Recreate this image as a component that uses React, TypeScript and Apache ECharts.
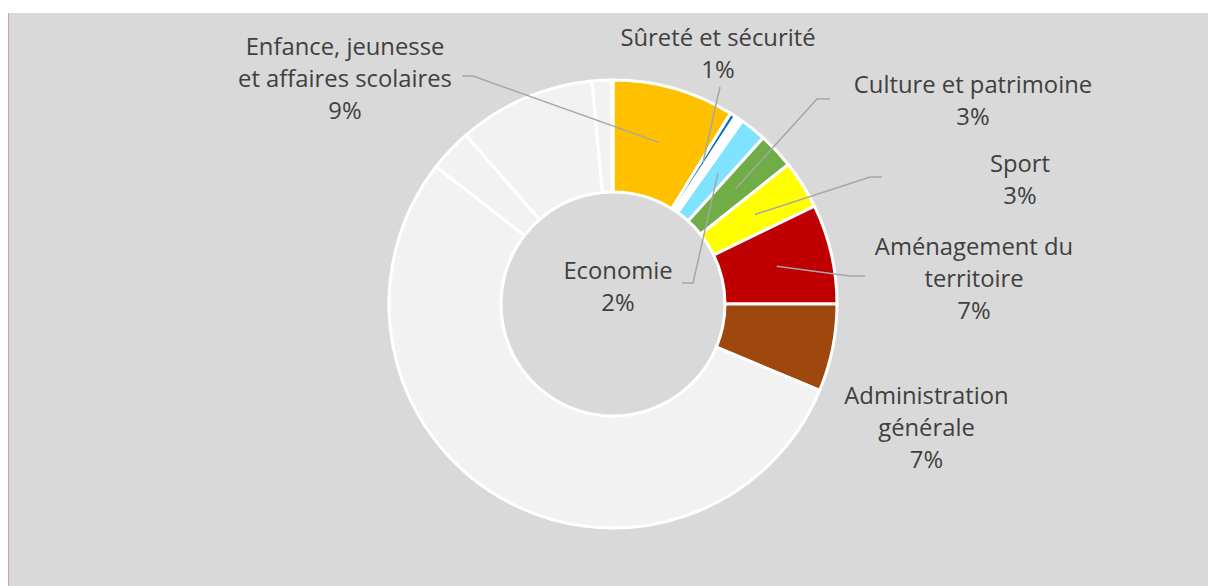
import React, { useEffect, useRef } from "react";
import * as echarts from "echarts";

// Category labels (as displayed) and slice values (share of total, %)
const categories = [
  "Enfance, jeunesse\net affaires scolaires",
  "Sûreté et sécurité",
  "",
  "Economie",
  "Culture et patrimoine",
  "Sport",
  "Aménagement du\nterritoire",
  "Administration\ngénérale",
  "",
  "",
  "",
  "",
  "",
];
const values = [8.8, 0.4, 0.6, 1.9, 2.6, 3.5, 7.2, 6.3, 54.2, 3.1, 9.9, 1.4, 0.1];
const pctLabels = ["9%", "1%", "", "2%", "3%", "3%", "7%", "7%", "", "", "", "", ""];
const colors = [
  "#ffc000", "#0070c0", "#ffffff", "#7fe2ff", "#70ad47", "#ffff00", "#c00000", "#9e480e",
  "#f2f2f2", "#f2f2f2", "#f2f2f2", "#f2f2f2", "#f2f2f2",
];

// Layout (container coordinates)
const CX = 605;
const CY = 296;
const R_IN = 112;
const R_OUT = 224;
const labelPos: Record<number, { x: number; y: number; knee?: number[]; end?: number[] }> = {
  0: { x: 337, y: 69.5, knee: [465, 68], end: [454, 68] },
  1: { x: 710, y: 45, knee: [712, 79], end: [712, 79] },
  3: { x: 610, y: 278, knee: [685, 275], end: [674, 275] },
  4: { x: 965, y: 92, knee: [809, 91], end: [822, 91] },
  5: { x: 1012, y: 170.5, knee: [862, 169], end: [874, 169] },
  6: { x: 966, y: 269.5, knee: [842, 268], end: [857, 268] },
  7: { x: 918.5, y: 418.5 },
};

const total = values.reduce((a, b) => a + b, 0);
function midPoint(i: number) {
  let cum = 0;
  for (let k = 0; k < i; k++) cum += values[k];
  const theta = ((cum + values[i] / 2) / total) * 2 * Math.PI;
  const rm = (R_IN + R_OUT) / 2;
  return [CX + rm * Math.sin(theta), CY - rm * Math.cos(theta)];
}

export default function App() {
  const ref = useRef<HTMLDivElement>(null);
  useEffect(() => {
    if (!ref.current) return;
    const chart = echarts.init(ref.current, null, { renderer: "svg" });
    const sliceData = values.map((v, i) => ({
      value: v,
      name: categories[i] || "autre" + i,
      itemStyle: { color: colors[i] },
    }));
    const labelData = values.map((v, i) => {
      const labeled = pctLabels[i] !== "";
      return {
        value: v,
        name: categories[i] || "autre" + i,
        label: { show: labeled },
        labelLine: { show: labeled && i !== 7 },
      };
    });
    chart.setOption({
      animation: false,
      backgroundColor: "transparent",
      graphic: [
        {
          type: "rect",
          silent: true,
          z: -10,
          shape: { x: 0, y: 5, width: 1200, height: 573 },
          style: { fill: "#d9d9d9" },
        },
        {
          type: "line",
          silent: true,
          z: -9,
          shape: { x1: 0.5, y1: 5, x2: 0.5, y2: 578 },
          style: { stroke: "#d6a29c", lineWidth: 1 },
        },
      ],
      series: [
        {
          type: "pie",
          z: 2,
          center: [CX, CY],
          radius: [R_IN, R_OUT],
          startAngle: 90,
          clockwise: true,
          silent: true,
          itemStyle: { borderColor: "#ffffff", borderWidth: 3 },
          emphasis: { disabled: true },
          label: { show: false },
          labelLine: { show: false },
          data: sliceData,
        },
        {
          type: "pie",
          z: 5,
          center: [CX, CY],
          radius: [R_IN, R_OUT],
          startAngle: 90,
          clockwise: true,
          silent: true,
          avoidLabelOverlap: false,
          itemStyle: { color: "rgba(0,0,0,0)", borderWidth: 0 },
          emphasis: { disabled: true },
          label: {
            position: "outside",
            fontFamily: "Open Sans",
            fontSize: 23.8,
            lineHeight: 32,
            color: "#404040",
            formatter: (p: any) => `${categories[p.dataIndex]}\n${pctLabels[p.dataIndex]}`,
          },
          labelLine: {
            lineStyle: { color: "#a6a6a6", width: 1.5 },
          },
          labelLayout: (p: any) => {
            const pos = labelPos[p.dataIndex];
            if (!pos) return {};
            const out: any = { x: pos.x, y: pos.y, align: "center", verticalAlign: "middle" };
            if (pos.knee && pos.end) {
              out.labelLinePoints = [midPoint(p.dataIndex), pos.knee, pos.end];
            }
            return out;
          },
          data: labelData,
        },
      ],
    });
    return () => chart.dispose();
  }, []);
  return (
    <div
      ref={ref}
      style={{ position: "absolute", left: 8, top: 8, width: 1200, height: 578 }}
    />
  );
}
